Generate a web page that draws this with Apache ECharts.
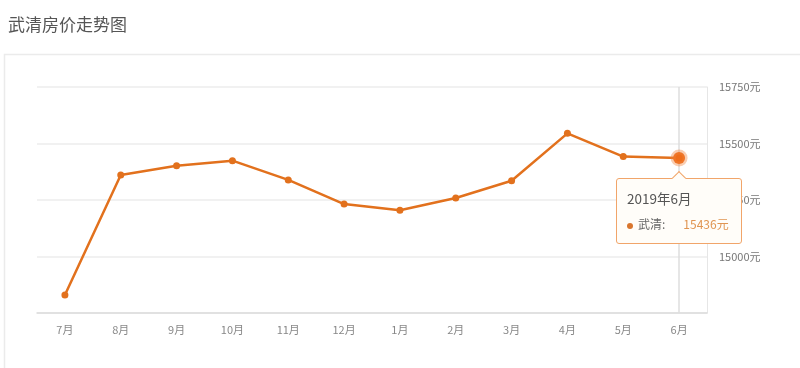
<!DOCTYPE html>
<html>
<head>
<meta charset="utf-8">
<script src="https://cdn.jsdelivr.net/npm/echarts@6/dist/echarts.min.js"></script>
<style>
html,body{margin:0;padding:0;background:#fff;}
#c{width:800px;height:368px;}
.tt::before{content:'';position:absolute;top:-6px;left:50%;margin-left:-5px;width:9px;height:9px;background:#fffdf9;border-left:1px solid #f1a56a;border-top:1px solid #f1a56a;transform:rotate(45deg);}
</style>
</head>
<body>
<div id="c"></div>
<script>
const titleText = '武清房价走势图';
const seriesName = '武清';
const months = ['7月','8月','9月','10月','11月','12月','1月','2月','3月','4月','5月','6月'];
const fullMonths = ['2018年7月','2018年8月','2018年9月','2018年10月','2018年11月','2018年12月','2019年1月','2019年2月','2019年3月','2019年4月','2019年5月','2019年6月'];
const prices = [14830, 15361, 15402, 15424, 15339, 15232, 15205, 15259, 15335, 15545, 15442, 15436];
const yMin = 14750, yMax = 15750, yStep = 250;

const FONT = '"Noto Sans CJK SC", "Noto Sans", sans-serif';
const ORANGE = '#e2711d';

const chart = echarts.init(document.getElementById('c'), null, {renderer: 'canvas'});
const seriesData = prices.map((v, i) => {
  if (i === prices.length - 1) {
    return {
      value: v,
      symbolSize: 12,
      itemStyle: {color: '#ee6d1a', borderColor: 'rgba(240,130,60,0.4)', borderWidth: 5}
    };
  }
  return v;
});

chart.setOption({
  animation: false,
  textStyle: {fontFamily: FONT},
  title: {
    text: titleText, left: 3, top: 11,
    textStyle: {fontSize: 17, fontWeight: 'normal', color: '#555', fontFamily: FONT}
  },
  graphic: [{
    type: 'rect', silent: true, z: -10,
    shape: {x: 4.5, y: 54.5, width: 820, height: 340},
    style: {fill: 'none', stroke: '#ebebeb', lineWidth: 1.5}
  }],
  grid: {left: 37, right: 93, top: 87, bottom: 55},
  tooltip: {
    trigger: 'item',
    className: 'tt',
    position: function (point, params, dom, rect, size) {
      const cx = rect ? rect.x + rect.width / 2 : point[0];
      const cy = rect ? rect.y + rect.height / 2 : point[1];
      return [cx - size.contentSize[0] / 2, cy + 20];
    },
    alwaysShowContent: true,
    triggerOn: 'none',
    backgroundColor: '#fffdf9',
    borderColor: '#f1a56a',
    borderWidth: 1,
    padding: [8, 12, 8, 10],
    extraCssText: 'border-radius:3px;box-shadow:none;',
    formatter: function (p) {
      return '<div style="font-family:' + FONT.replace(/"/g, "'") + ';line-height:22px;">' +
        '<div style="font-size:13.5px;color:#555;">' + fullMonths[p.dataIndex] + '</div>' +
        '<div style="font-size:12px;color:#666;margin-top:4px;">' +
        '<span style="display:inline-block;width:6px;height:6px;border-radius:3px;background:#d9762e;margin-right:5px;vertical-align:middle;"></span>' +
        seriesName + ':<span style="display:inline-block;width:18px;"></span>' +
        '<span style="color:#e09552;">' + p.value + '元</span></div></div>';
    }
  },
  xAxis: {
    type: 'category',
    data: months,
    boundaryGap: true,
    axisLine: {lineStyle: {color: '#dcdcdc', width: 1.5}},
    axisTick: {show: false},
    axisLabel: {color: '#888', fontSize: 11, margin: 11, fontFamily: FONT}
  },
  yAxis: {
    type: 'value',
    position: 'right',
    min: yMin, max: yMax, interval: yStep,
    axisLine: {show: true, lineStyle: {color: '#e6e6e6'}},
    axisTick: {show: false},
    splitLine: {lineStyle: {color: '#ececec', width: 1.5}},
    axisLabel: {
      color: '#777', fontSize: 11, margin: 12, fontFamily: FONT,
      showMinLabel: false,
      formatter: function (v) { return String(v) + '元'; }
    }
  },
  series: [{
    name: seriesName,
    type: 'line',
    data: seriesData,
    symbol: 'circle',
    symbolSize: 7,
    lineStyle: {color: ORANGE, width: 2.5},
    itemStyle: {color: ORANGE},
    emphasis: {disabled: true},
    markLine: {
      silent: true,
      symbol: 'none',
      label: {show: false},
      lineStyle: {color: '#dedede', type: 'solid', width: 1.5},
      data: [{xAxis: months[months.length - 1]}],
      z: 1
    }
  }]
});

chart.dispatchAction({type: 'showTip', seriesIndex: 0, dataIndex: prices.length - 1});
</script>
</body>
</html>
